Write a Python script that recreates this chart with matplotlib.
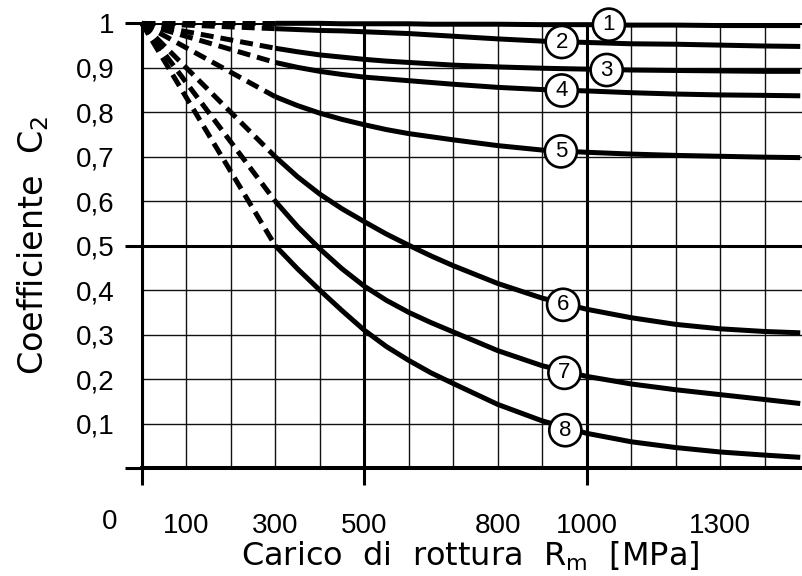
import matplotlib
matplotlib.use("Agg")
import matplotlib.pyplot as plt

# Carico di rottura [MPa] for the solid part of the curves
x_solid = [300, 350, 400, 450, 500, 550, 600, 650, 700, 800, 900, 1000, 1100, 1200, 1300, 1400, 1480]

# Coefficient C2 (1..8)
c1 = [1.000, 1.000, 1.000, 0.999, 0.999, 0.999, 0.999, 0.998, 0.998, 0.998, 0.997, 0.997, 0.996, 0.996, 0.995, 0.995, 0.995]
c2 = [0.988, 0.986, 0.984, 0.983, 0.981, 0.979, 0.977, 0.974, 0.971, 0.965, 0.960, 0.957, 0.954, 0.953, 0.951, 0.949, 0.948]
c3 = [0.944, 0.936, 0.929, 0.924, 0.919, 0.915, 0.912, 0.909, 0.906, 0.902, 0.899, 0.897, 0.895, 0.894, 0.893, 0.892, 0.892]
c4 = [0.912, 0.901, 0.892, 0.885, 0.879, 0.875, 0.871, 0.867, 0.863, 0.856, 0.851, 0.848, 0.844, 0.841, 0.839, 0.838, 0.837]
c5 = [0.835, 0.815, 0.798, 0.784, 0.772, 0.761, 0.752, 0.745, 0.738, 0.725, 0.715, 0.710, 0.706, 0.703, 0.701, 0.699, 0.698]
c6 = [0.700, 0.655, 0.616, 0.583, 0.554, 0.526, 0.501, 0.477, 0.455, 0.415, 0.382, 0.357, 0.338, 0.323, 0.313, 0.307, 0.304]
c7 = [0.600, 0.543, 0.493, 0.448, 0.409, 0.377, 0.350, 0.327, 0.306, 0.264, 0.230, 0.206, 0.189, 0.176, 0.165, 0.154, 0.145]
c8 = [0.500, 0.448, 0.400, 0.354, 0.310, 0.273, 0.242, 0.214, 0.190, 0.143, 0.106, 0.078, 0.059, 0.046, 0.036, 0.029, 0.024]
curves = [c1, c2, c3, c4, c5, c6, c7, c8]

# dashed extrapolation: from (0, 1) to the start of each solid curve
x_dash_start = 0
y_dash_start = 1.0

# curve labels (circled numbers)
label_names = ["1", "2", "3", "4", "5", "6", "7", "8"]
label_x = [1050, 944, 1045, 944, 942, 947, 950, 952]
label_y = [0.997, 0.958, 0.895, 0.849, 0.712, 0.367, 0.214, 0.085]

# axis ticks
x_major = [0, 500, 1000]
x_major_labels = ["", "500", "1000"]
x_minor = [100, 200, 300, 400, 600, 700, 800, 900, 1100, 1200, 1300, 1400]
x_minor_labels = ["100", "", "300", "", "", "", "800", "", "", "", "1300", ""]
y_major = [0, 0.5, 1.0]
y_major_labels = ["", "0,5", "1"]
y_minor = [0.1, 0.2, 0.3, 0.4, 0.6, 0.7, 0.8, 0.9]
y_minor_labels = ["0,1", "0,2", "0,3", "0,4", "0,6", "0,7", "0,8", "0,9"]

fig = plt.figure(figsize=(8.02, 5.76), dpi=100)
ax = fig.add_axes([0.1768, 0.1875, 0.8232, 0.7720])
ax.set_xlim(0, 1484)
ax.set_ylim(0, 1.0)

tick_font = dict(family="Liberation Sans", size=20)

ax.set_xticks(x_major)
ax.set_xticklabels(x_major_labels, **tick_font)
ax.set_xticks(x_minor, minor=True)
ax.set_xticklabels(x_minor_labels, minor=True, **tick_font)
ax.set_yticks(y_major)
ax.set_yticklabels(y_major_labels, **tick_font)
ax.set_yticks(y_minor, minor=True)
ax.set_yticklabels(y_minor_labels, minor=True, **tick_font)

ax.tick_params(axis="x", which="major", length=12.2, width=2.2, pad=20, direction="out")
ax.tick_params(axis="x", which="minor", length=0, pad=32.5)
ax.tick_params(axis="y", which="major", length=12.2, width=2.2, pad=7.2, direction="out")
ax.tick_params(axis="y", which="minor", length=0, pad=19.4)

ax.grid(True, which="major", color="black", lw=2.2)
ax.grid(True, which="minor", color="#111111", lw=1.0)

ax.spines["top"].set_visible(False)
ax.spines["right"].set_visible(False)
ax.spines["left"].set_linewidth(2.2)
ax.spines["bottom"].set_linewidth(2.9)

# curves: dashed from (0,1), then solid
for yy in curves:
    ax.plot([x_dash_start, x_solid[0]], [y_dash_start, yy[0]], color="black", lw=3.6,
            linestyle=(0, (2.6, 1.4)), clip_on=False, zorder=3)
    ax.plot(x_solid, yy, color="black", lw=3.6, solid_capstyle="butt",
            solid_joinstyle="round", clip_on=False, zorder=3)

for name, lx, ly in zip(label_names, label_x, label_y):
    ax.text(lx, ly, name, ha="center", va="center", fontsize=16, family="Liberation Sans",
            zorder=5, bbox=dict(boxstyle="circle,pad=0.25", fc="white", ec="black", lw=1.9))

# corner "0" label
ax.annotate("0", xy=(0, 0), xytext=(-32, -54), textcoords="offset pixels",
            ha="center", va="center", **tick_font)

ax.set_xlabel("Carico  di  rottura  R$_\\mathrm{m}$  [MPa]", fontsize=23, family="DejaVu Sans", va="center")
ax.xaxis.set_label_coords(0.497, -0.198)
ax.set_ylabel("Coefficiente  C$_2$", fontsize=24, family="DejaVu Sans", va="center")
ax.yaxis.set_label_coords(-0.165, 0.501)

fig.savefig("out.png", dpi=100)
